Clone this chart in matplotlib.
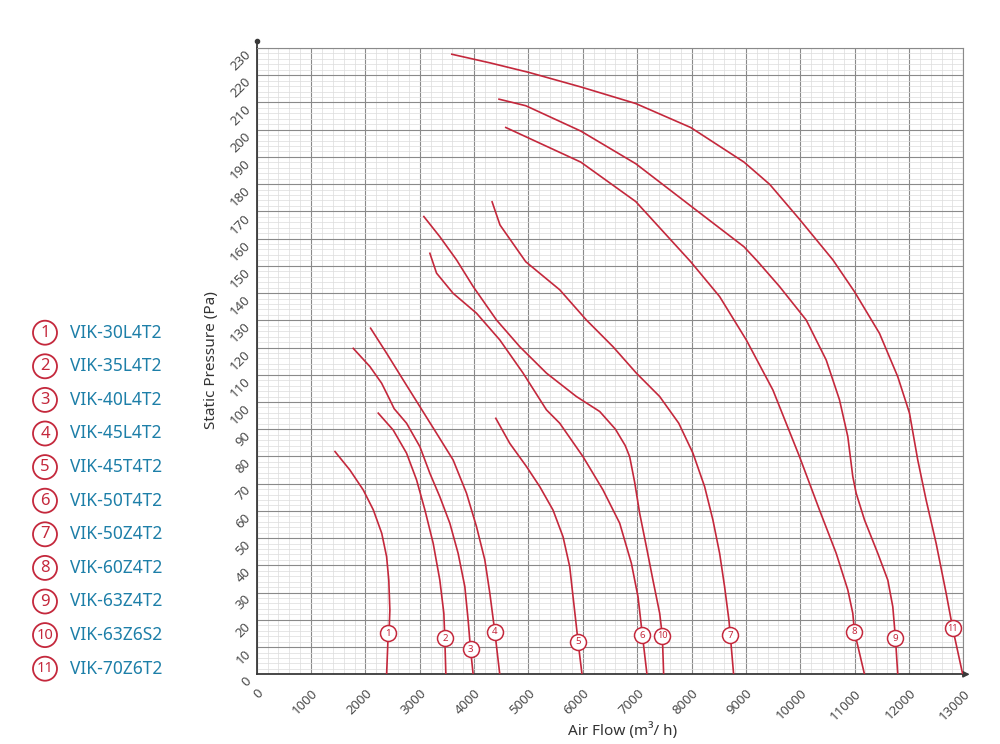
import matplotlib.pyplot as plt
from matplotlib.patches import Circle

# model names (legend)
models = ["VIK-30L4T2", "VIK-35L4T2", "VIK-40L4T2", "VIK-45L4T2", "VIK-45T4T2", "VIK-50T4T2",
          "VIK-50Z4T2", "VIK-60Z4T2", "VIK-63Z4T2", "VIK-63Z6S2", "VIK-70Z6T2"]

# fan curves: air flow (m3/h) vs static pressure (Pa)
flow_1 = [1440, 1715, 1960, 2145, 2300, 2390, 2430, 2450, 2440, 2420, 2390]
pres_1 = [81.8, 75.0, 67.7, 60.4, 51.8, 43.2, 34.6, 23.6, 18.0, 15.1, 0]
flow_2 = [2236, 2511, 2757, 2941, 3094, 3247, 3369, 3443, 3461, 3480]
pres_2 = [95.9, 89.7, 81.2, 71.4, 60.4, 48.1, 34.6, 22.4, 13.2, 0]
flow_3 = [1776, 2083, 2298, 2420, 2530, 2757, 3002, 3186, 3369, 3553, 3706, 3829, 3890, 3934, 3982]
pres_3 = [119.7, 113.0, 106.9, 102.0, 97.5, 92.2, 83.6, 73.8, 65.2, 55.5, 44.4, 32.2, 19.9, 9.2, 0]
flow_4 = [2095, 2390, 2695, 3002, 3309, 3614, 3860, 4044, 4197, 4289, 4381, 4472]
pres_4 = [127.1, 117.9, 108.1, 98.3, 88.5, 78.7, 66.5, 54.2, 42.0, 29.8, 15.6, 0]
flow_5 = [4399, 4656, 4963, 5208, 5452, 5636, 5759, 5820, 5882, 5912, 5985]
pres_5 = [94.0, 84.8, 76.3, 68.9, 60.3, 50.5, 39.5, 28.5, 17.5, 12.0, 0]
flow_6 = [3186, 3309, 3614, 4044, 4472, 4901, 5331, 5575, 6004, 6371, 6678, 6893, 7015, 7096, 7180]
pres_6 = [154.6, 147.3, 139.9, 132.6, 122.8, 110.6, 97.1, 92.2, 79.9, 67.7, 55.5, 40.8, 28.5, 14.4, 0]
flow_7 = [4331, 4476, 4950, 5575, 6066, 6555, 6985, 7414, 7765, 8026, 8241, 8393, 8517, 8608, 8688, 8713, 8774]
pres_7 = [173.5, 165.0, 151.5, 141.2, 130.1, 120.3, 110.6, 102.0, 92.2, 81.2, 68.9, 56.7, 44.4, 32.2, 19.9, 14.4, 0]
flow_8 = [4583, 5962, 6974, 7985, 8517, 9007, 9497, 9987, 10355, 10662, 10875, 10967, 10998, 11182]
pres_8 = [200.8, 188.1, 173.6, 151.5, 138.7, 122.8, 104.4, 79.9, 60.3, 44.4, 31.0, 22.4, 15.6, 0]
flow_9 = [4458, 4950, 5962, 6974, 7985, 8965, 9221, 9619, 10110, 10478, 10722, 10875, 10967,
          11029, 11182, 11427, 11611, 11703, 11752, 11794]
pres_9 = [211.2, 208.8, 199.5, 187.5, 172.0, 157.0, 151.5, 142.4, 130.1, 115.4, 100.8, 87.3, 72.6,
          66.5, 56.7, 44.4, 34.6, 24.8, 13.2, 0]
flow_10 = [3075, 3369, 3676, 3982, 4412, 4840, 5331, 5882, 6311, 6600, 6780, 6862, 6954, 7046,
           7169, 7290, 7414, 7463, 7487]
pres_10 = [168.1, 160.7, 152.2, 142.4, 130.1, 120.3, 110.6, 102.0, 96.5, 90.0, 84.0, 79.9, 70.5, 59.1,
           46.9, 34.6, 22.4, 14.1, 0]
flow_11 = [3590, 4300, 5013, 5962, 6974, 7985, 8965, 9439, 9978, 10600, 10998, 11458, 11794, 12010,
           12162, 12316, 12500, 12684, 12805, 12989]
pres_11 = [227.7, 224.5, 221.0, 215.7, 209.6, 200.8, 188.1, 179.9, 167.3, 152.2, 140.5, 125.2, 109.3, 95.9,
           78.7, 64.0, 48.1, 29.8, 16.9, 0]

# where the numbered markers sit on each curve
label_flow = [2420, 3461, 3934, 4381, 5912, 7096, 8713, 10998, 11752, 7463, 12805]
label_pres = [15.1, 13.2, 9.2, 15.6, 12.0, 14.4, 14.4, 15.6, 13.2, 14.1, 16.9]

curves = [(flow_1, pres_1), (flow_2, pres_2), (flow_3, pres_3), (flow_4, pres_4),
          (flow_5, pres_5), (flow_6, pres_6), (flow_7, pres_7), (flow_8, pres_8),
          (flow_9, pres_9), (flow_10, pres_10), (flow_11, pres_11)]

x_ticks = list(range(0, 13001, 1000))
y_ticks = list(range(0, 231, 10))

RED = '#c4283c'
BLUE = '#1d7fa8'

plt.rcParams['font.family'] = ['Noto Sans', 'DejaVu Sans']
fig = plt.figure(figsize=(10, 7.44), dpi=100)
ax = fig.add_axes([0.2567, 0.0937, 0.7066, 0.8418])
ax.set_xlim(0, 13000)
ax.set_ylim(0, 230)

# graph-paper grid
ax.set_xticks(x_ticks)
ax.set_yticks(y_ticks)
ax.set_xticks(range(0, 13001, 200), minor=True)
ax.set_yticks(range(0, 231, 2), minor=True)
ax.grid(which='minor', color='#dcdcdc', lw=0.5)
ax.grid(which='major', color='#8a8a8a', lw=0.8)
ax.set_axisbelow(True)
ax.tick_params(which='both', length=0)
ax.tick_params(axis='x', pad=9)
ax.tick_params(axis='y', pad=9)
ax.set_xticklabels([str(v) for v in x_ticks], rotation=45, ha='right', va='top',
                   rotation_mode='anchor', fontsize=9.5, color='#4a4a4a')
ax.set_yticklabels([str(v) for v in y_ticks], rotation=45, ha='right', va='top',
                   rotation_mode='anchor', fontsize=9.5, color='#4a4a4a')

for s in ['top', 'right']:
    ax.spines[s].set_color('#8a8a8a')
    ax.spines[s].set_linewidth(0.8)
for s in ['left', 'bottom']:
    ax.spines[s].set_color('#3a3a3a')
    ax.spines[s].set_linewidth(1.3)

# axis arrow / dot
ax.annotate('', xy=(13170, 0), xytext=(12950, 0), annotation_clip=False,
            arrowprops=dict(arrowstyle='-|>', color='#3a3a3a', lw=1.2, mutation_scale=9))
ax.plot([0, 0], [230, 232.5], color='#3a3a3a', lw=1.3, clip_on=False)
ax.plot([0], [232.5], 'o', color='#3a3a3a', ms=3, clip_on=False)

# curves
for fx, py in curves:
    ax.plot(fx, py, color=RED, lw=1.2, zorder=3)

for i in range(len(label_flow)):
    ax.plot(label_flow[i], label_pres[i], 'o', ms=11.5, mfc='white', mec=RED, mew=1.1, zorder=4)
    ax.text(label_flow[i], label_pres[i], str(i + 1), ha='center', va='center',
            fontsize=6.5 if i >= 9 else 7, color=RED, zorder=5)

fig.text(0.211, 1 - 360 / 744, 'Static Pressure (Pa)', rotation=90, ha='center', va='center',
         fontsize=11, color='#333333')
fig.text(0.623, 1 - 731 / 744, 'Air Flow (m³/ h)', ha='center', va='center',
         fontsize=11, color='#333333')

# legend on the left, in figure pixels
lax = fig.add_axes([0, 0, 1, 1])
lax.set_xlim(0, 1000)
lax.set_ylim(744, 0)
lax.axis('off')
lax.patch.set_alpha(0)
for i, name in enumerate(models):
    cy = 332.7 + i * 33.6
    lax.add_patch(Circle((45, cy), 12, fill=False, ec=RED, lw=1.3))
    lax.text(45, cy, str(i + 1), ha='center', va='center',
             fontsize=10.5 if i >= 9 else 12, color=RED)
    lax.text(70, cy, name, ha='left', va='center', fontsize=12.5, color=BLUE)

fig.savefig('out.png', dpi=100)
